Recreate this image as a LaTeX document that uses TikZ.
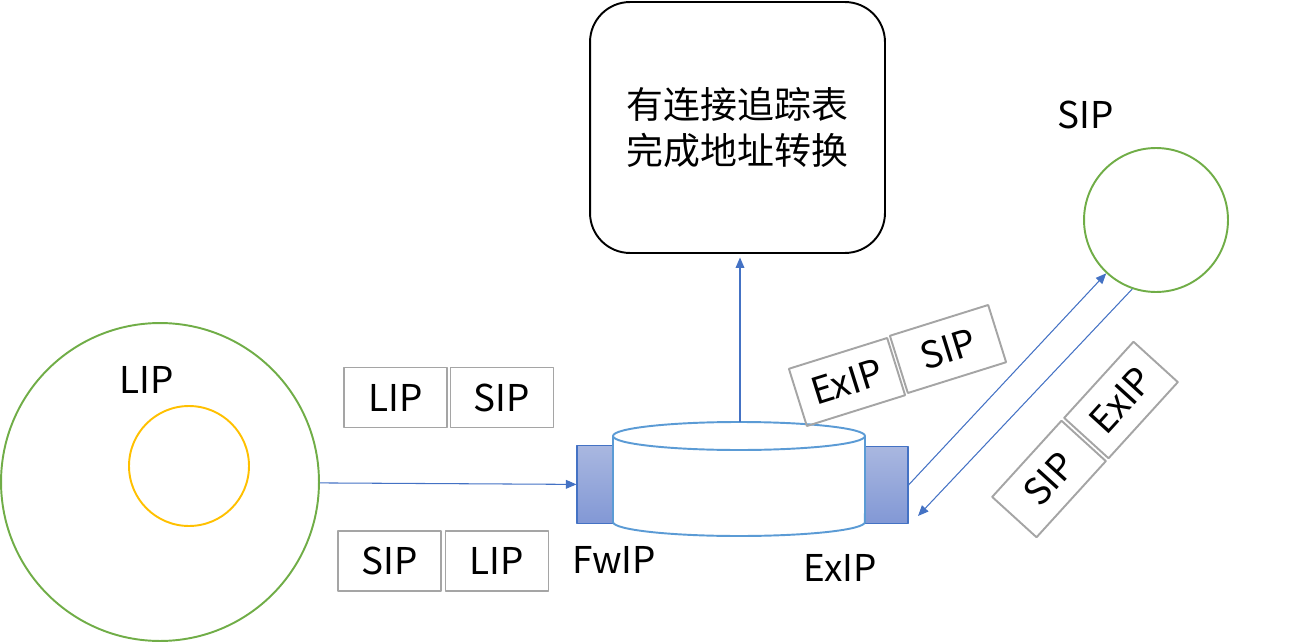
\documentclass[tikz,border=0pt]{standalone}
\usepackage{fontspec}
\setmainfont{Noto Sans CJK SC}
\usepackage{xcolor}
\usetikzlibrary{arrows.meta,calc}
\definecolor{ringgreen}{HTML}{70AD47}
\definecolor{ringyellow}{HTML}{FFC000}
\definecolor{flowblue}{HTML}{4472C4}
\definecolor{cylblue}{HTML}{5B9BD5}
\definecolor{pktgray}{HTML}{A5A5A5}
\definecolor{porttop}{HTML}{A9B7E0}
\definecolor{portbot}{HTML}{8298D5}

\begin{document}
\begin{tikzpicture}[x=0.02cm, y=-0.02cm, >={Triangle[length=6pt,width=5pt]}, line join=round,
  every node/.style={font=\fontsize{21}{26}\selectfont},
  pkt/.style={draw=pktgray, line width=1.1pt, minimum width=2.06cm, minimum height=1.2cm, inner sep=0pt},
  flow/.style={->, draw=flowblue, line width=0.6pt},
  port/.style={draw=flowblue, line width=0.6pt, top color=porttop, bottom color=portbot, minimum height=1.55cm, inner sep=0pt},
  cyl/.style={draw=cylblue, line width=1.1pt}]
  \useasboundingbox (0,0) rectangle (1315,642);
  \node[circle, draw=ringgreen, line width=1.1pt, minimum size=6.36cm, inner sep=0pt] (lan) at (160,482) {};
  \node[circle, draw=ringyellow, line width=1.1pt, minimum size=2.4cm, inner sep=0pt] (host) at (189,466) {};
  \node (lanlbl) at (147,380) {LIP};
  \node[circle, draw=ringgreen, line width=1.1pt, minimum size=2.88cm, inner sep=0pt] (sip) at (1156,220) {};
  \node (siplbl) at (1086,115) {SIP};
  \node[draw, line width=1.1pt, rounded corners=0.8cm, minimum width=5.9cm, minimum height=5.02cm, align=center] (nat) at (737.5,127.5) {有连接追踪表\\完成地址转换};
  \node[pkt] (outl) at (395.5,397.5) {LIP};
  \node[pkt] (outs) at (502,397.5) {SIP};
  \node[pkt] (ins) at (389.5,561) {SIP};
  \node[pkt] (inl) at (497,561) {LIP};
  \node[port, minimum width=0.72cm] (lport) at (595,484.5) {};
  \node[port, minimum width=0.86cm] (rport) at (886.5,485) {};
  \draw[cyl, fill=white] (613,436) -- (613,522) arc[start angle=180, end angle=360, x radius=2.52cm, y radius=0.28cm] -- (865,436);
  \draw[cyl, fill=white] (739,436) ellipse[x radius=2.52cm, y radius=0.28cm];
  \coordinate (cyltop) at (740,422);
  \node (fwlbl) at (614,560) {FwIP};
  \node (exlbl) at (840,568) {ExIP};
  \node[pkt, rotate=17.4] (upex) at (847,382) {ExIP};
  \node[pkt, rotate=17.4] (upsip) at (948,349) {SIP};
  \node[pkt, rotate=47.7] (dnsip) at (1049,479) {SIP};
  \node[pkt, rotate=47.7] (dnex) at (1121,400) {ExIP};
  \coordinate (back) at (918,516);
  \draw[flow] (lan) -- (lport);
  \draw[flow, shorten >=2pt] (cyltop) -- (cyltop |- nat.south);
  \draw[flow] (rport.east) -- (sip);
  \draw[flow] (sip.251) -- (back);
\end{tikzpicture}
\end{document}
